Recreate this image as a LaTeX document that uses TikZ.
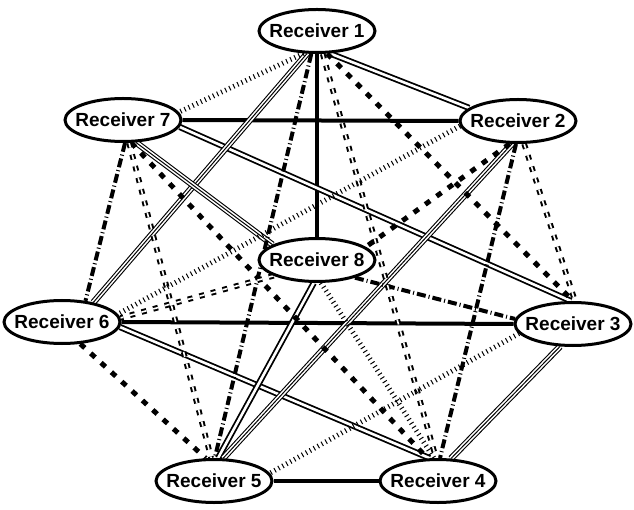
\documentclass[tikz,border=0pt]{standalone}
\usepackage{fontspec}
\setmainfont{Liberation Sans}
\usetikzlibrary{shapes.geometric}
\pgfdeclarelayer{edges}
\pgfsetlayers{edges,main}
\newcommand\rxlabel[1]{\makebox[40pt][c]{#1}}
\begin{document}
\begin{tikzpicture}[x=1pt,y=-1pt,
  rx/.style={ellipse, draw, line width=3pt, fill=white, minimum width=116pt, minimum height=43pt, inner sep=0pt, font=\fontsize{19}{21}\selectfont\bfseries},
  solidline/.style={line width=4pt},
  dblline/.style={double, line width=1.8pt, double distance=2.6pt},
  tripleline/.style={line width=6.4pt, postaction={draw=white, line width=4.2pt}, postaction={draw=black, line width=1pt}},
  thickdash/.style={line width=5pt, dash pattern=on 6pt off 8pt},
  ddline/.style={line width=4pt, dash pattern=on 9pt off 3pt on 1pt off 3pt},
  dbldash/.style={double, line width=2pt, double distance=1.6pt, dash pattern=on 5pt off 7pt},
  hatchline/.style={line width=5pt, dash pattern=on 1pt off 3.5pt},
]
\useasboundingbox (0,0) rectangle (634,510);
\node[rx] (R1) at (317,31) {\rxlabel{Receiver 1}};
\node[rx] (R2) at (518,121) {\rxlabel{Receiver 2}};
\node[rx] (R3) at (573,324) {\rxlabel{Receiver 3}};
\node[rx] (R4) at (438,481) {\rxlabel{Receiver 4}};
\node[rx] (R5) at (214,481) {\rxlabel{Receiver 5}};
\node[rx] (R6) at (62,322) {\rxlabel{Receiver 6}};
\node[rx] (R7) at (123,120) {\rxlabel{Receiver 7}};
\node[rx] (R8) at (317,260) {\rxlabel{Receiver 8}};
\begin{pgfonlayer}{edges}
% solid
\draw[solidline] (R1.south) -- (R8.north);
\draw[solidline] (R7.east) -- (R2.west);
\draw[solidline] (R6.east) -- (R3.west);
\draw[solidline] (R5.east) -- (R4.west);
% double
\draw[dblline] (R1.300) -- (R2.165);
\draw[dblline] (R7.353) -- (R3.95);
\draw[dblline] (R6.355) -- (R4.110);
\draw[dblline] (R8.262) -- (R5.80);
% triple
\draw[tripleline] (R1.246) -- (R6.32);
\draw[tripleline] (R2.255) -- (R5.68);
\draw[tripleline] (R3.240) -- (R4.60);
\draw[tripleline] (R7.300) -- (R8.161);
% thick dashed
\draw[thickdash] (R1.294) -- (R3.90);
\draw[thickdash] (R2.250) -- (R8.15);
\draw[thickdash] (R7.290) -- (R4.115);
\draw[thickdash] (R6.310) -- (R5.110);
% dash dot
\draw[ddline] (R1.256) -- (R5.88);
\draw[ddline] (R2.265) -- (R4.85);
\draw[ddline] (R8.335) -- (R3.175);
\draw[ddline] (R7.275) -- (R6.42);
% double dashed
\draw[dbldash] (R1.284) -- (R4.95);
\draw[dbldash] (R2.285) -- (R3.85);
\draw[dbldash] (R7.285) -- (R5.97);
\draw[dbldash] (R8.200) -- (R6.4);
% hatched
\draw[hatchline] (R1.239) -- (R7.8);
\draw[hatchline] (R2.185) -- (R6.8);
\draw[hatchline] (R3.190) -- (R5.8);
\draw[hatchline] (R8.280) -- (R4.100);
\end{pgfonlayer}
\end{tikzpicture}
\end{document}
